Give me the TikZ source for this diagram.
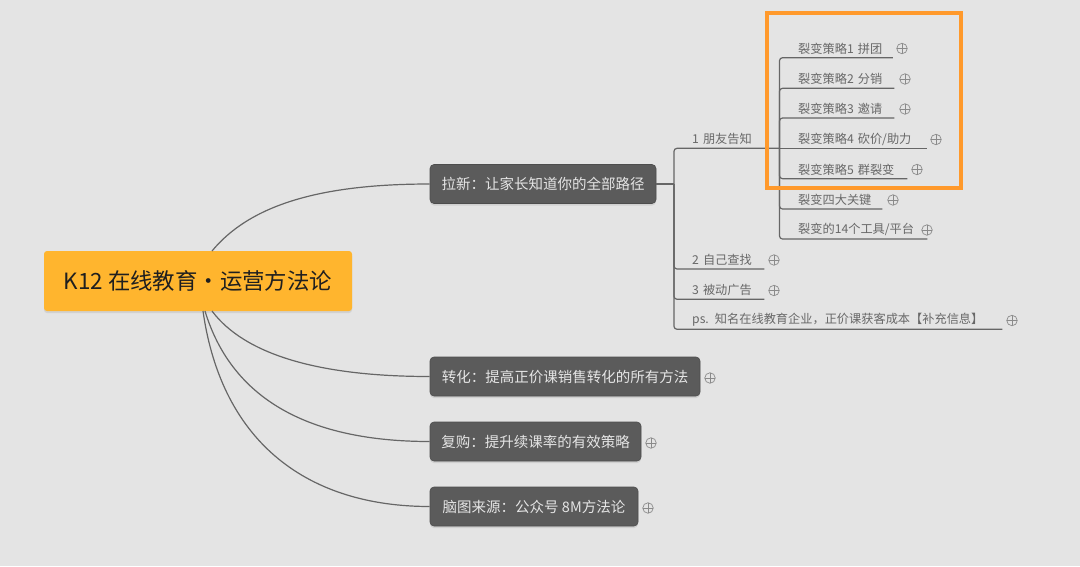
\documentclass[tikz,border=0pt]{standalone}
\usepackage{fontspec}
\setmainfont{Noto Sans CJK SC}
\usetikzlibrary{shadows}
\definecolor{bgc}{HTML}{E4E4E4}
\definecolor{rootc}{HTML}{FFB52E}
\definecolor{branchc}{HTML}{5B5B5B}
\definecolor{linec}{HTML}{666666}
\definecolor{leaftext}{HTML}{686868}
\definecolor{plusc}{HTML}{8A8A8A}
\definecolor{framec}{HTML}{FF992B}
\tikzset{
  rootbox/.style={anchor=center,fill=rootc,rounded corners=3pt,inner sep=0pt,minimum width=308pt,minimum height=60pt,
    text=black!88,font=\fontsize{22.4}{26}\selectfont,drop shadow={shadow xshift=0pt,shadow yshift=-2pt,opacity=.18}},
  branchbox/.style={anchor=center,fill=branchc,draw=branchc!85!black,line width=.6pt,rounded corners=4pt,inner sep=0pt,minimum height=39pt,
    text=white!90!black,font=\fontsize{14.5}{17}\selectfont,drop shadow={shadow xshift=0pt,shadow yshift=-2pt,opacity=.2}},
  leaftxt/.style={anchor=south west,inner sep=0pt,minimum height=18pt,align=left,text=leaftext,font=\fontsize{12.2}{14}\selectfont},
  conn/.style={draw=linec,line width=1.2pt},
  trunk/.style={conn,rounded corners=3pt},
  plusmark/.style={circle,draw=plusc,line width=.7pt,inner sep=0pt,minimum size=10.5pt,
    path picture={\draw[plusc,line width=.7pt] (path picture bounding box.north) -- (path picture bounding box.south)
      (path picture bounding box.west) -- (path picture bounding box.east);}},
  frame/.style={draw=framec,line width=4.4pt}
}
\begin{document}
\begin{tikzpicture}[x=1pt,y=-1pt]
\useasboundingbox (0,0) rectangle (1080,566);
\fill[bgc] (0,0) rectangle (1080,566);

% main nodes
\node[rootbox] (root) at (198,281) {K12 在线教育·运营方法论};
\node[branchbox,minimum width=226pt] (h1) at (543,184) {拉新：让家长知道你的全部路径};
\node[branchbox,minimum width=270pt] (h2) at (565,376.5) {转化：提高正价课销售转化的所有方法};
\node[branchbox,minimum width=211pt] (h3) at (535.5,441.5) {复购：提升续课率的有效策略};
\node[branchbox,minimum width=208pt] (h4) at (534,506.5) {脑图来源：公众号 8M方法论};

% level 2
\node[leaftxt,text width=88pt] (f1) at (692,148.3) {1 朋友告知};
\node[leaftxt,text width=72pt] (f2) at (692,269) {2 自己查找};
\node[leaftxt,text width=72pt] (f3) at (692,299.3) {3 被动广告};
\node[leaftxt,text width=310pt] (f4) at (692,329.3) {ps. 知名在线教育企业，正价课获客成本【补充信息】};

% level 3
\node[leaftxt,text width=94.5pt] (s1) at (798,57.7) {裂变策略1 拼团};
\node[leaftxt,text width=96pt] (s2) at (798,88.3) {裂变策略2 分销};
\node[leaftxt,text width=96pt] (s3) at (798,118) {裂变策略3 邀请};
\node[leaftxt,text width=129pt] (s4) at (798,148.3) {裂变策略4 砍价/助力};
\node[leaftxt,text width=109pt] (s5) at (798,178.7) {裂变策略5 群裂变};
\node[leaftxt,text width=84pt] (s6) at (798,209) {裂变四大关键};
\node[leaftxt,text width=129pt] (s7) at (798,239) {裂变的14个工具/平台};

% junctions
\coordinate (r1) at (212,251);
\coordinate (r2) at (212,311);
\coordinate (r3) at (205,311);
\coordinate (r4) at (203,311);
\coordinate (j1) at (674,184);
\coordinate (j2) at (779.5,148.3);

% curved connectors
\draw[conn] (r1) .. controls (250,205) and (320,184) .. (h1.west);
\draw[conn] (r2) .. controls (245,355) and (320,376.5) .. (h2.west);
\draw[conn] (r3) .. controls (232,400) and (310,441.5) .. (h3.west);
\draw[conn] (r4) .. controls (222,445) and (310,506.5) .. (h4.west);

% tree connectors
\draw[conn] (h1.east) -- (j1);
\draw[trunk] (j1) |- (j2);
\draw[trunk] (j1) |- (f2.south east);
\draw[trunk] (j1) |- (f3.south east);
\draw[trunk] (j1) |- (f4.south east);
\draw[trunk] (j2) |- (s1.south east);
\draw[trunk] (j2) |- (s2.south east);
\draw[trunk] (j2) |- (s3.south east);
\draw[conn] (j2) -- (s4.south east);
\draw[trunk] (j2) |- (s5.south east);
\draw[trunk] (j2) |- (s6.south east);
\draw[trunk] (j2) |- (s7.south east);

% collapse marks
\node[plusmark] (p1) at (902,48.5) {};
\node[plusmark] (p2) at (905,79) {};
\node[plusmark] (p3) at (905,109) {};
\node[plusmark] (p4) at (936,139.5) {};
\node[plusmark] (p5) at (917,169.5) {};
\node[plusmark] (p6) at (893,200) {};
\node[plusmark] (p7) at (927,230) {};
\node[plusmark] (p8) at (774,260) {};
\node[plusmark] (p9) at (774,290.5) {};
\node[plusmark] (p10) at (1012,320.5) {};
\node[plusmark] (p11) at (710,378) {};
\node[plusmark] (p12) at (651,443) {};
\node[plusmark] (p13) at (648,508) {};

% highlight frame
\draw[frame] (767,13) rectangle (961,188);
\end{tikzpicture}
\end{document}
